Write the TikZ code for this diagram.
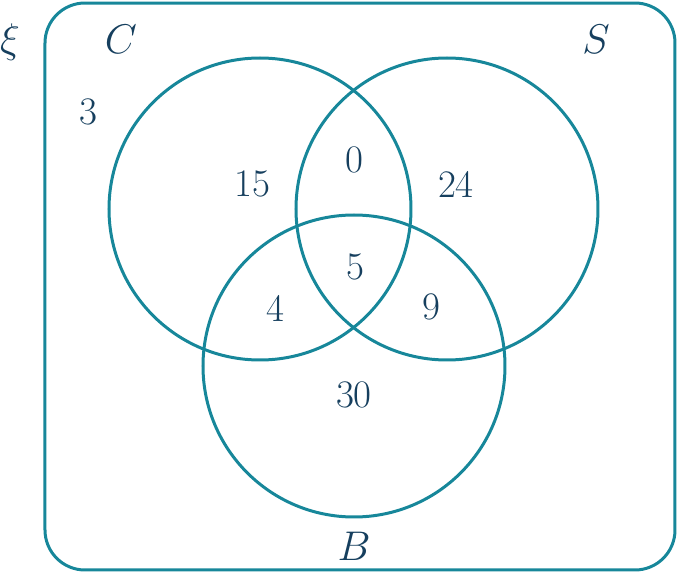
\documentclass[tikz,border=0pt]{standalone}
\usepackage{amsmath,amssymb}
\usepackage{tikz}
\usetikzlibrary{positioning}
\definecolor{venn}{HTML}{17879A}
\definecolor{ink}{HTML}{163F5E}
\tikzset{
  setcirc/.style={circle,draw=venn,line width=1.5pt,minimum size=151pt,inner sep=0pt},
  frame/.style={draw=venn,line width=1.5pt,rounded corners=20pt},
  lbl/.style={text=ink,inner sep=0pt,font=\fontsize{19.5}{23}\selectfont}
}

\begin{document}
\begin{tikzpicture}[x=0.5pt,y=-0.5pt]
  \useasboundingbox (0,0) rectangle (677,573);
  % universal set
  \draw[frame] (45,3) rectangle (675,570);
  % the three sets
  \node[setcirc] (setC) at (260,209) {};
  \node[setcirc] (setS) at (447,209) {};
  \node[setcirc] (setB) at (354,366) {};
  % set names
  \node[lbl] (xi) at (10,42) {$\xi$};
  \node[lbl] (nameC) at (121,39) {$C$};
  \node[lbl] (nameS) at (596,39) {$S$};
  \node[lbl] (nameB) at (354,546) {$B$};
  % counts
  \node[lbl] (out) at (88,112) {3};
  \node[lbl] (onlyC) at (252,184) {15};
  \node[lbl] (CS) at (354,160) {0};
  \node[lbl] (onlyS) at (456,184) {24};
  \node[lbl] (CSB) at (355,267) {5};
  \node[lbl] (CB) at (275,308) {4};
  \node[lbl] (SB) at (431,307) {9};
  \node[lbl] (onlyB) at (354,395) {30};
\end{tikzpicture}
\end{document}
